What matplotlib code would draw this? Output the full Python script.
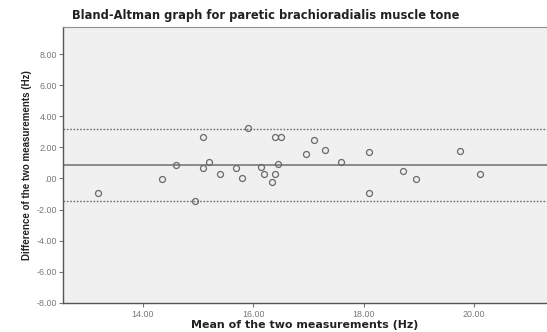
import matplotlib
matplotlib.use("Agg")
from matplotlib import pyplot as plt
import numpy as np

# mean of the two measurements (Hz) / difference (Hz)
mean_hz = [13.20, 14.36, 14.60, 14.95, 15.10, 15.10, 15.21, 15.41, 15.70, 15.80,
           15.90, 16.15, 16.20, 16.34, 16.40, 16.40, 16.51, 16.46, 16.95, 17.10,
           17.31, 17.60, 18.10, 18.10, 18.71, 18.95, 19.75, 20.10]
diff_hz = [-0.94, -0.03, 0.87, -1.44, 2.67, 0.68, 1.05, 0.27, 0.68, 0.05,
           3.25, 0.76, 0.27, -0.25, 0.27, 2.67, 2.67, 0.96, 1.57, 2.45,
           1.86, 1.05, 1.67, -0.94, 0.47, -0.03, 1.76, 0.27]
bias = 0.88
upper_loa = 3.20
lower_loa = -1.44

xticks = [14, 16, 18, 20]
yticks = [8, 6, 4, 2, 0, -2, -4, -6, -8]


def spss_fmt(v):
    s = "%.2f" % v
    if s.startswith("0."):
        s = s[1:]
    elif s.startswith("-0."):
        s = "-" + s[2:]
    return s


plt.rcParams['font.family'] = ['Liberation Sans', 'DejaVu Sans']

fig = plt.figure(figsize=(5.47, 3.32), dpi=100)
ax = fig.add_axes([0.1152, 0.088, 0.8848, 0.831])
ax.set_facecolor("#f0f0f0")

ax.axhline(bias, color="#707070", lw=1.1)
ax.axhline(upper_loa, color="#707070", lw=1.0, ls=(0, (1.2, 1.2)))
ax.axhline(lower_loa, color="#707070", lw=1.0, ls=(0, (1.2, 1.2)))
ax.plot(mean_hz, diff_hz, "o", ms=4.3, mfc="none", mec="#6a6a6a", mew=0.9)

ax.set_xlim(12.56, 21.32)
ax.set_ylim(-8, 9.75)
ax.set_xticks(xticks)
ax.set_xticklabels([spss_fmt(v) for v in xticks])
ax.set_yticks(yticks)
ax.set_yticklabels([spss_fmt(v) for v in yticks])
ax.tick_params(labelsize=6.4, colors="#777777", length=3, width=0.8, pad=2)
ax.tick_params(axis="y", pad=1.5)

for s in ["left", "bottom"]:
    ax.spines[s].set_color("#555555")
    ax.spines[s].set_linewidth(1.0)
ax.spines["top"].set_color("#909090")
ax.spines["top"].set_linewidth(0.8)
ax.spines["right"].set_visible(False)

ax.set_xlabel("Mean of the two measurements (Hz)", fontsize=7.9, fontweight="bold",
              family="DejaVu Sans", color="#222222", labelpad=1)
ax.set_ylabel("Difference of the two measurements (Hz)", fontsize=7.0,
              fontweight="bold", color="#222222", labelpad=3)
fig.text(0.485, 0.952, "Bland-Altman graph for paretic brachioradialis muscle tone",
         ha="center", va="center", fontsize=8.3, fontweight="bold",
         family="DejaVu Sans", color="#222222")

fig.savefig("out.png", dpi=100)
